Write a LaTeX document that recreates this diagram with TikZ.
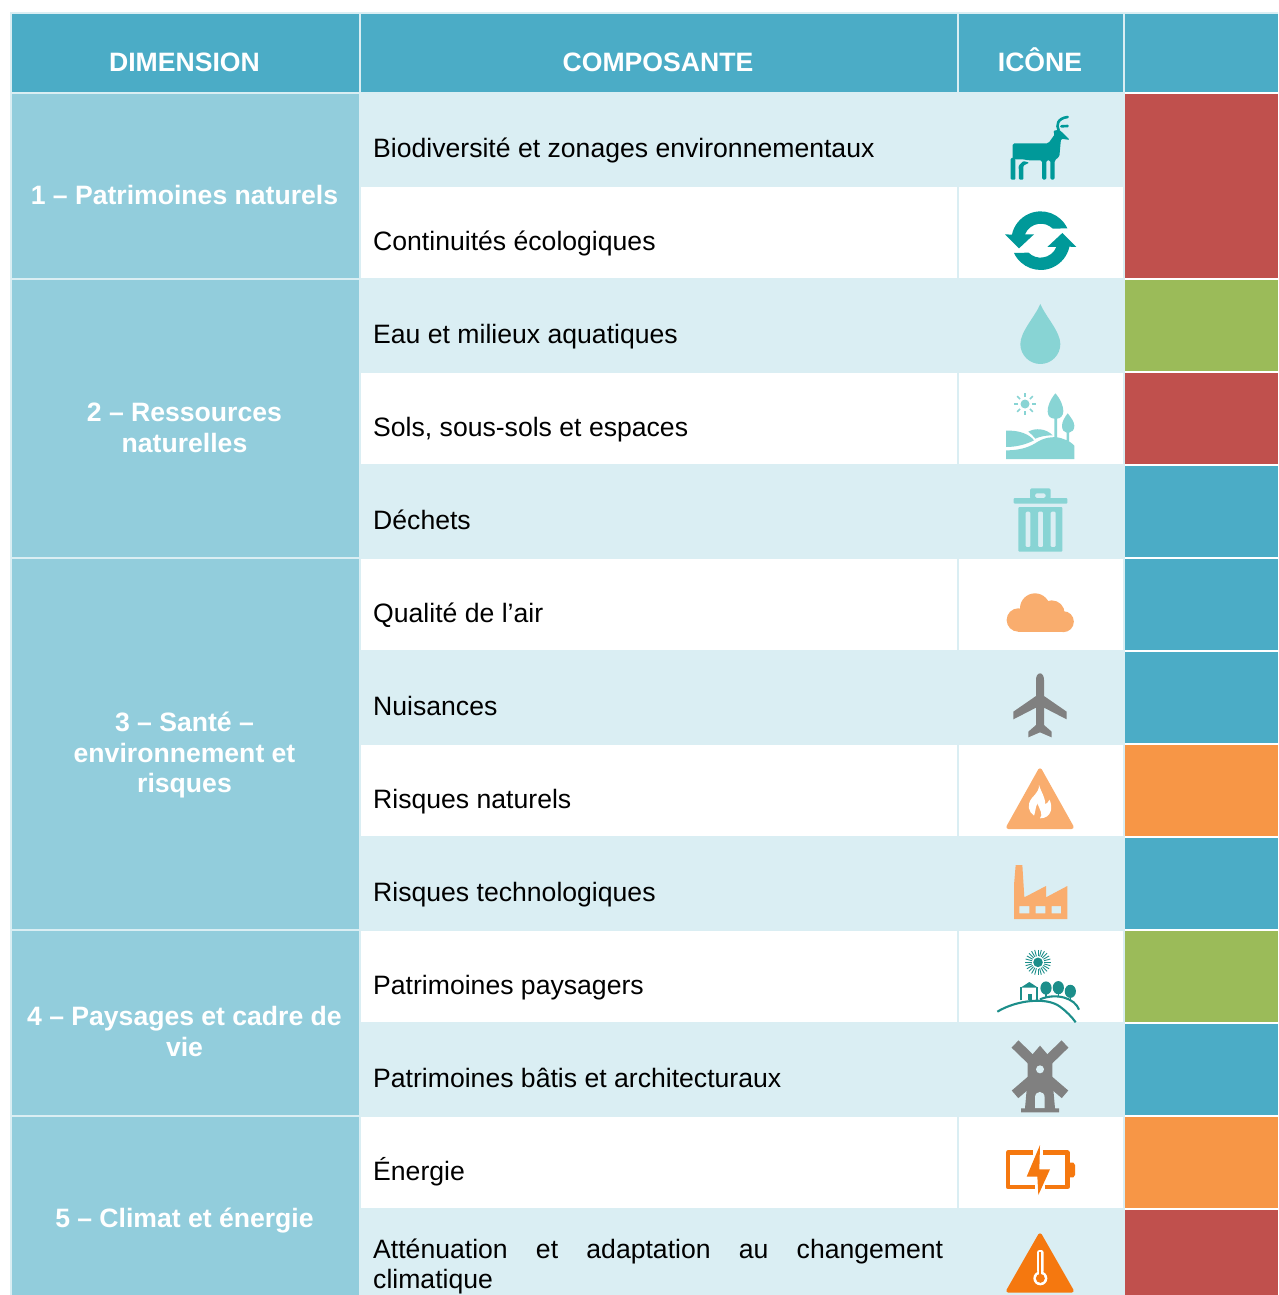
\documentclass[tikz,border=0pt]{standalone}
\usepackage{fontspec}
\setmainfont{Liberation Sans}
\definecolor{hdr}{HTML}{4BACC6}
\definecolor{dim}{HTML}{92CDDC}
\definecolor{lite}{HTML}{DAEEF3}
\definecolor{cred}{HTML}{C0504D}
\definecolor{cgrn}{HTML}{9BBB59}
\definecolor{corg}{HTML}{F79646}
\definecolor{teal}{HTML}{009999}
\definecolor{aqua}{HTML}{88D4D4}
\definecolor{peach}{HTML}{F9AD6E}
\definecolor{gry}{HTML}{808080}
\definecolor{dorg}{HTML}{F5780F}
\definecolor{dtl}{HTML}{1C8E8A}
\tikzset{
  zf/.style n args={2}{shift={(#1pt,-#2pt)},x=0.33333pt,y=-0.33333pt},
  cell/.style={font=\fontsize{26.6}{30}\selectfont,anchor=base west,inner sep=0pt,text=black},
  head/.style={font=\fontsize{26.6}{31}\bfseries\selectfont,anchor=base,inner sep=0pt,text=white},
  dimtxt/.style={font=\fontsize{26.6}{30.7}\bfseries\selectfont,inner sep=0pt,text=white,text width=340pt,execute at begin node={\centering\spaceskip=7.3pt\relax}},
}
\begin{document}
\begin{tikzpicture}[x=1pt,y=-1pt]
\useasboundingbox (0,0) rectangle (1278,1295);
\fill[white] (0,0) rectangle (1278,1295);
\fill[lite] (10,12) rectangle (1278,1295);
% header
\fill[hdr] (12,14) rectangle (359,92);
\fill[hdr] (361,14) rectangle (957,92);
\fill[hdr] (959,14) rectangle (1123,92);
\fill[hdr] (1125,14) rectangle (1278,92);
% dimension column
\fill[dim] (12,94) rectangle (359,278);
\fill[dim] (12,280) rectangle (359,557);
\fill[dim] (12,559) rectangle (359,929);
\fill[dim] (12,931) rectangle (359,1115);
\fill[dim] (12,1117) rectangle (359,1295);
% white rows
\foreach \a/\b in {187/278,373/464,559/650,745/836,931/1022,1117/1208}{
  \fill[white] (361,\a) rectangle (957,\b);
  \fill[white] (959,\a) rectangle (1123,\b);
}
% status column
\fill[white] (1123,92) rectangle (1278,1295);
\fill[lite] (1123,92) rectangle (1125,1295);
\fill[cred] (1125,94) rectangle (1278,278);
\fill[cgrn] (1125,280) rectangle (1278,371);
\fill[cred] (1125,373) rectangle (1278,464);
\fill[hdr] (1125,466) rectangle (1278,557);
\fill[hdr] (1125,559) rectangle (1278,650);
\fill[hdr] (1125,652) rectangle (1278,743);
\fill[corg] (1125,745) rectangle (1278,836);
\fill[hdr] (1125,838) rectangle (1278,929);
\fill[cgrn] (1125,931) rectangle (1278,1022);
\fill[hdr] (1125,1024) rectangle (1278,1115);
\fill[corg] (1125,1117) rectangle (1278,1208);
\fill[cred] (1125,1210) rectangle (1278,1295);
% texts
\node[head] (h1) at (184.5,72) {DIMENSION};
\node[head] (h2) at (658,72) {COMPOSANTE};
\node[head] (h3) at (1040,72) {ICÔNE};
\node[dimtxt] (d1) at (184.5,195) {1 – Patrimoines naturels};
\node[dimtxt] (d2) at (184.5,427.5) {2 – Ressources\\naturelles};
\node[dimtxt] (d3) at (184.5,755) {3 – Santé –\\environnement et\\risques};
\node[dimtxt] (d4) at (184.5,1031.5) {4 – Paysages et cadre de\\vie};
\node[dimtxt] (d5) at (184.5,1221) {5 – Climat et énergie};
\node[cell] (c1) at (373,157.5) {Biodiversité et zonages environnementaux};
\node[cell] (c2) at (373,250) {Continuités écologiques};
\node[cell] (c3) at (373,343) {Eau et milieux aquatiques};
\node[cell] (c4) at (373,436) {Sols, sous-sols et espaces};
\node[cell] (c5) at (373,529) {Déchets};
\node[cell] (c6) at (373,622) {Qualité de l’air};
\node[cell] (c7) at (373,715) {Nuisances};
\node[cell] (c8) at (373,808) {Risques naturels};
\node[cell] (c9) at (373,901) {Risques technologiques};
\node[cell] (c10) at (373,994) {Patrimoines paysagers};
\node[cell] (c11) at (373,1087) {Patrimoines bâtis et architecturaux};
\node[cell] (c12) at (373,1180) {Énergie};
\node[cell,align=left,anchor=north west] (c13) at (373,1239) {\makebox[570pt][s]{Atténuation et adaptation au changement}\\climatique};
% --- icons, zoom frame 1
\begin{scope}[zf={960}{95}]
  % deer
  \fill[teal,rounded corners=1.5pt] (158,192) -- (158,145) -- (265,145) -- (285,117) -- (278,108) -- (298,104) -- (330,135) -- (303,131) -- (298,185) -- (284,196) -- (284,254) -- (271,254) -- (271,196) -- (259,196) -- (259,254) -- (246,254) -- (246,196) -- (205,196) -- (190,193) -- (170,193) -- (158,192) -- cycle;
  \fill[teal,rounded corners=1pt] (152,190) -- (166,186) -- (166,254) -- (152,254) -- cycle;
  \fill[teal,rounded corners=1pt] (176,212) -- (190,198) -- (208,203) -- (190,212) -- (190,254) -- (177,254) -- cycle;
  \draw[teal,line width=2.6pt,line cap=round] (296,106) .. controls (288,90) and (292,70) .. (323,66);
  \draw[teal,line width=2.6pt,line cap=round] (304,94) -- (323,93);
  % refresh
  \foreach \r in {0,180}{
  \begin{scope}[rotate around={\r:(242,437)}]
    \fill[teal] (322,400) arc[start angle=25,end angle=168,radius=29.4pt] -- (135,418) -- (177,460) -- (222,418) -- (195,418) arc[start angle=158,end angle=45,radius=17pt] -- cycle;
  \end{scope}}
  % drop
  \fill[aqua] (241,627) .. controls (225,665) and (181,710) .. (181,747) .. controls (181,780) and (208,807) .. (241,807) .. controls (274,807) and (301,780) .. (301,747) .. controls (301,710) and (257,665) .. (241,627) -- cycle;
\end{scope}
% --- frame 2
\begin{scope}[zf={960}{375}]
  % landscape
  \fill[aqua] (195,87) circle[radius=4.5pt];
  \foreach \a in {0,45,...,315}
    \draw[aqua,line width=1.5pt] (195,87) ++(\a:7pt) -- ++(\a:4pt);
  \fill[aqua] (286,55) .. controls (270,75) and (262,95) .. (263,110) .. controls (264,125) and (272,130) .. (283,131) -- (283,190) -- (291,190) -- (291,131) .. controls (302,130) and (310,122) .. (310,108) .. controls (310,95) and (302,72) .. (286,55) -- cycle;
  \fill[aqua] (323,115) .. controls (315,125) and (306,140) .. (306,152) .. controls (306,165) and (312,172) .. (320,173) -- (320,200) -- (327,200) -- (327,173) .. controls (336,172) and (343,165) .. (343,152) .. controls (343,140) and (331,125) .. (323,115) -- cycle;
  \fill[aqua] (138,167) .. controls (178,165) and (208,178) .. (222,196) .. controls (195,210) and (165,216) .. (138,216) -- cycle;
  \fill[aqua] (205,170) .. controls (225,158) and (258,160) .. (278,181) .. controls (258,181) and (240,184) .. (226,191) .. controls (220,183) and (213,176) .. (205,170) -- cycle;
  \fill[aqua] (138,226) .. controls (190,226) and (215,212) .. (235,199) .. controls (260,185) and (290,183) .. (310,192) .. controls (325,196) and (335,204) .. (343,212) -- (343,252) -- (138,252) -- cycle;
  % trash
  \fill[aqua,even odd rule,rounded corners=1.5pt] (210,372) -- (210,340) -- (272,340) -- (272,372) -- cycle (225,355) -- (225,369) -- (257,369) -- (257,355) -- cycle;
  \fill[aqua,rounded corners=1pt] (161,369) rectangle (322,386);
  \fill[aqua,even odd rule,rounded corners=1pt] (175,396) -- (307,396) -- (307,530) -- (175,530) -- cycle
     (197,410) rectangle (211,516) (234,410) rectangle (249,516) (272,410) rectangle (287,516);
  % cloud
  \fill[peach] (175,735) circle[radius=11.7pt];
  \fill[peach] (225,700) circle[radius=15pt];
  \fill[peach] (275,715) circle[radius=13pt];
  \fill[peach] (310,740) circle[radius=10.5pt];
  \fill[peach] (175,720) rectangle (310,770.5);
\end{scope}
% --- frame 3
\begin{scope}[zf={960}{655}]
  % plane
  \fill[gry] (240,55) .. controls (232,55) and (228,65) .. (228,75) -- (228,123) -- (160,170) -- (160,193) -- (228,158) -- (228,210) -- (205,230) -- (205,247) -- (240,232) -- (275,247) -- (275,230) -- (252,210) -- (252,158) -- (320,193) -- (320,170) -- (252,123) -- (252,75) .. controls (252,65) and (248,55) .. (240,55) -- cycle;
  % fire
  \filldraw[peach,line width=4pt,line join=round] (240,346) -- (145,516) -- (335,516) -- cycle;
  \fill[white] (237,390) .. controls (245,415) and (255,425) .. (256,448) .. controls (262,445) and (266,440) .. (268,434) .. controls (280,455) and (275,490) .. (240,490) .. controls (250,478) and (240,465) .. (232,445) .. controls (226,458) and (226,472) .. (222,482) .. controls (205,470) and (200,450) .. (215,430) .. controls (232,412) and (238,402) .. (237,390) -- cycle;
  % factory
  \fill[peach,even odd rule] (162,792) -- (162,690) -- (167,630) -- (187,630) -- (193,727) -- (258,693) -- (258,727) -- (322,693) -- (322,792) -- cycle
    (178,753) rectangle (208,775) (227,753) rectangle (256,775) (275,753) rectangle (303,775);
\end{scope}
% --- frame 4
\begin{scope}[zf={960}{935}]
  % paysage
  \fill[dtl] (234,82) circle[radius=4.8pt];
  \foreach \a in {0,15,...,345}
    \draw[dtl,line width=0.9pt] (234,82) ++(\a:6.2pt) -- ++(\a:6.6pt);
  \draw[dtl,line width=2.1pt] (112,230) .. controls (170,195) and (260,185) .. (300,215) .. controls (320,230) and (335,245) .. (347,262);
  \draw[dtl,line width=2.1pt] (240,193) .. controls (290,172) and (345,190) .. (357,224);
  \fill[dtl] (182,158) -- (208,141) -- (234,158) -- cycle;
  \draw[dtl,line width=1.9pt,line join=round] (184,196) -- (184,156);
  \draw[dtl,line width=1.9pt,line join=round] (232,156) -- (232,194);
  \fill[dtl] (204,178) rectangle (216,196);
  \foreach \tx/\ty in {258/159,295/158,331/169}{
    \fill[dtl] (\tx,\ty) ellipse[x radius=5.6pt,y radius=6.6pt];
    \fill[dtl] (\tx-2,\ty) rectangle (\tx+3,\ty+28);
  }
  % windmill
  \fill[gry] (240,332) -- (277,375) -- (277,430) -- (285,520) -- (297,520) -- (297,532) -- (183,532) -- (183,520) -- (195,520) -- (203,430) -- (203,375) -- cycle;
  \draw[gry,line width=10pt] (165,327) -- (235,395);
  \draw[gry,line width=10pt] (315,327) -- (245,395);
  \draw[gry,line width=10pt] (165,478) -- (215,435);
  \draw[gry,line width=10pt] (315,478) -- (265,435);
  \fill[lite] (240,403) circle[radius=4pt];
  \fill[lite] (225,519) -- (225,488) .. controls (225,465) and (254,465) .. (254,488) -- (254,519) -- cycle;
  % battery
  \draw[dorg,line width=4.4pt,line join=round] (220,653) -- (144,653) -- (144,756) -- (225,756);
  \draw[dorg,line width=4.4pt,line join=round] (248,653) -- (322,653) -- (322,756) -- (255,756);
  \fill[dorg] (328,683) -- (340,683) -- (345,690) -- (345,720) -- (340,727) -- (328,727) -- cycle;
  \fill[dorg] (240,630) -- (200,725) -- (232,725) -- (235,780) -- (270,703) -- (238,703) -- cycle;
  % thermometer triangle
  \filldraw[dorg,line width=4pt,line join=round] (240,901) -- (145,1067) -- (335,1067) -- cycle;
  \fill[white,rounded corners=2.5pt] (231,1015) -- (231,945) -- (251,945) -- (251,1015) -- cycle;
  \fill[white] (241,1030) circle[radius=7pt];
  \fill[dorg] (241,1030) circle[radius=4.5pt];
  \fill[dorg] (238,952) rectangle (244,1030);
\end{scope}
\end{tikzpicture}
\end{document}
